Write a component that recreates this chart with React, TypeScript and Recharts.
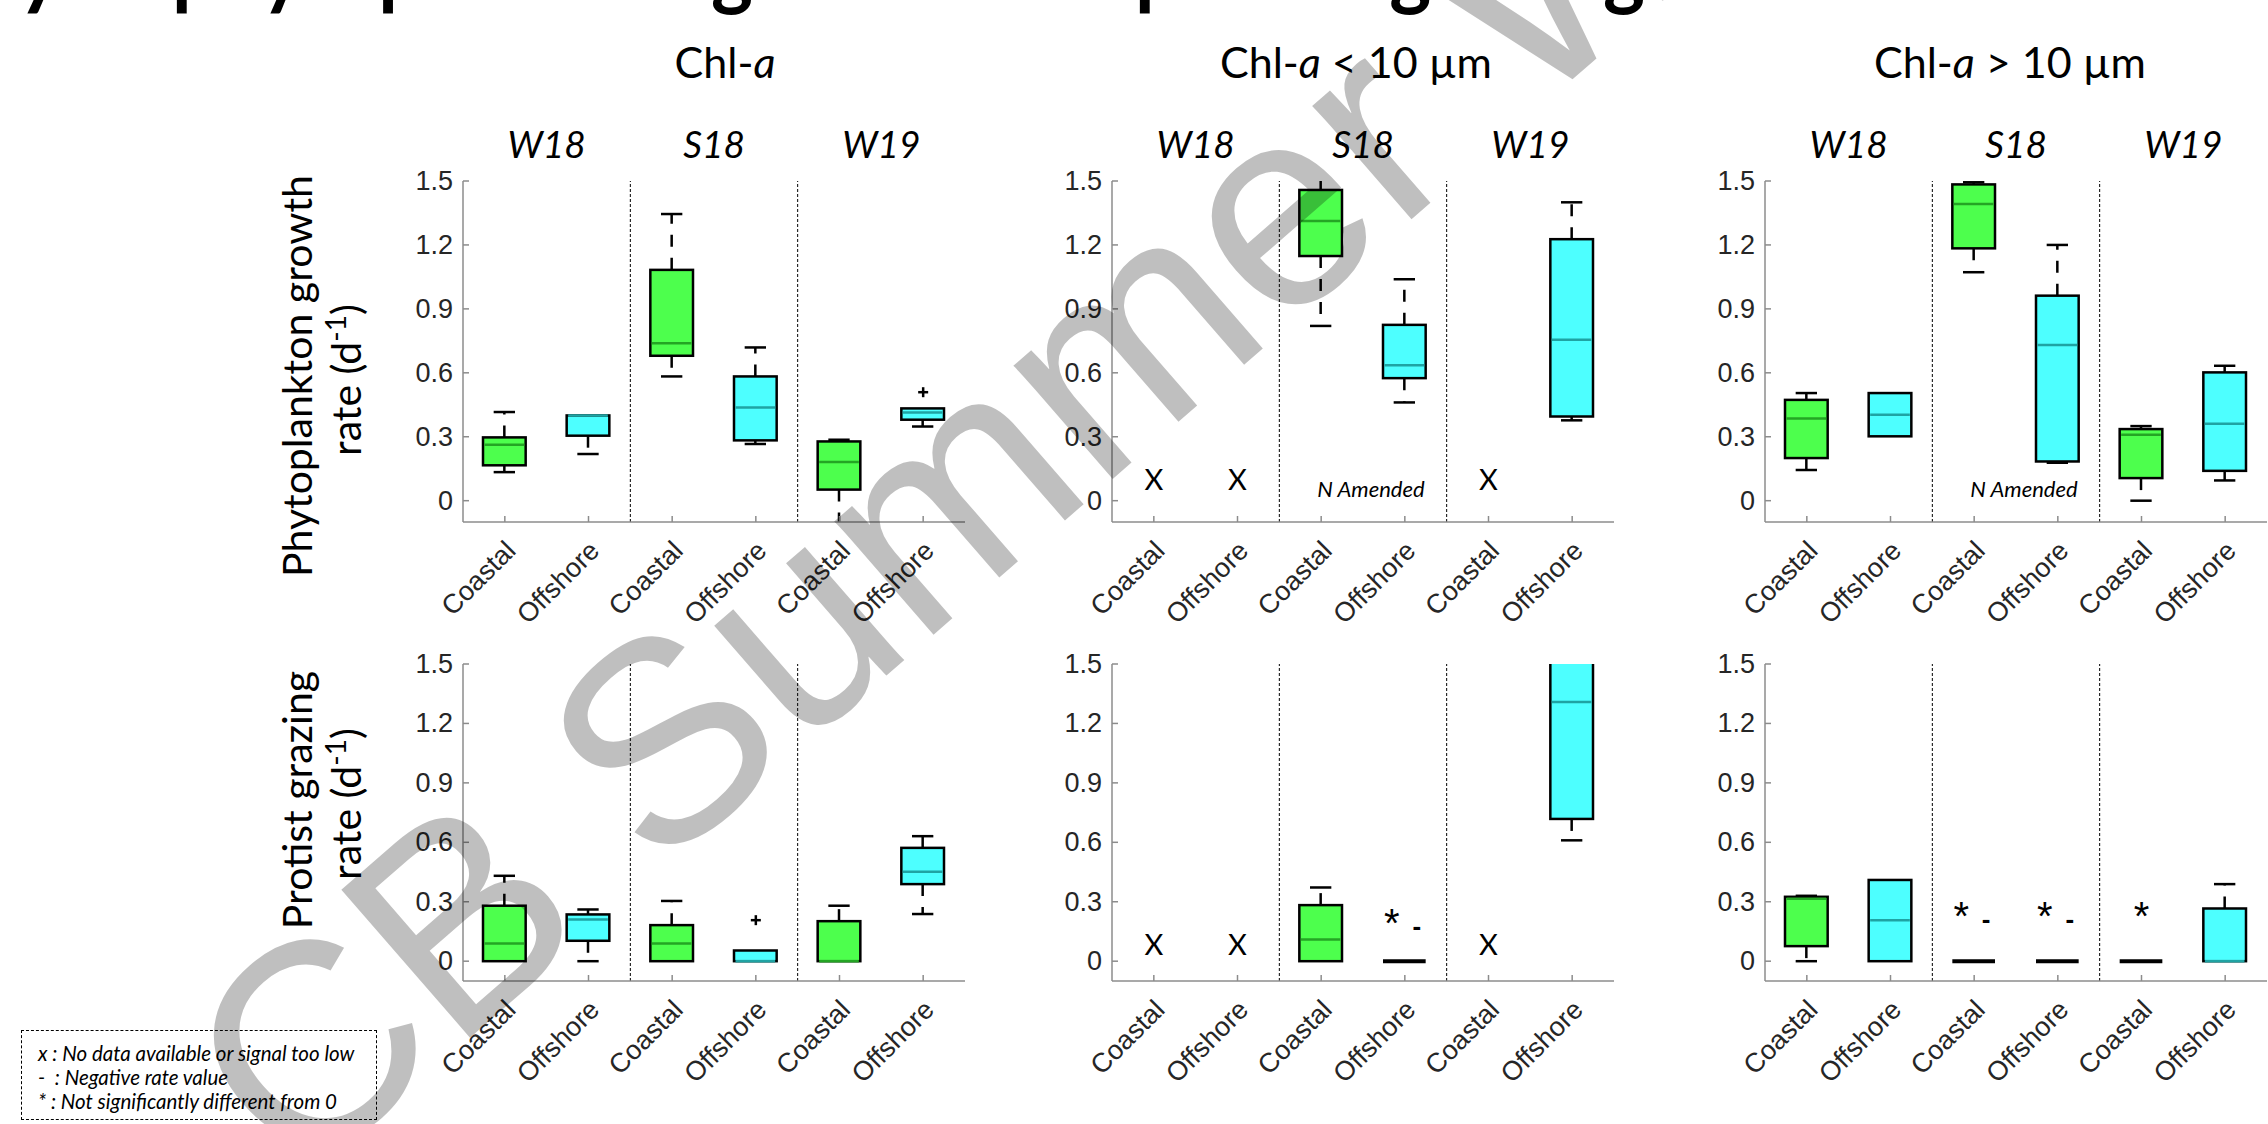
import React from 'react'
import { ComposedChart, Bar, Scatter, XAxis, YAxis, ReferenceLine } from 'recharts'

// site x season categories along each panel's x axis
const categories = ['Coastal', 'Offshore', 'Coastal', 'Offshore', 'Coastal', 'Offshore']
const seasons = ['W18', 'S18', 'W19']
const yTicks = [0, 0.3, 0.6, 0.9, 1.2, 1.5]
const yDomain: [number, number] = [-0.1, 1.5]

// box stats: [min, q1, median, q3, max], null = no data
const growthAll = [
  [0.134, 0.166, 0.262, 0.297, 0.416],
  [0.219, 0.305, 0.4, 0.4, 0.4],
  [0.583, 0.68, 0.739, 1.083, 1.345],
  [0.266, 0.283, 0.437, 0.583, 0.719],
  [-0.2, 0.052, 0.181, 0.278, 0.286],
  [0.348, 0.38, 0.414, 0.433, 0.433],
]
const growthAllOutliers = [null, null, null, null, null, 0.509]

const growthSmall = [
  null,
  null,
  [0.82, 1.148, 1.312, 1.458, 1.52],
  [0.461, 0.575, 0.636, 0.825, 1.039],
  null,
  [0.377, 0.395, 0.755, 1.227, 1.4],
]
const growthSmallMarks = ['x', 'x', '', '', 'x', '']
const growthSmallMarkY = [0.106, 0.106, null, null, 0.106, null]

const growthLarge = [
  [0.144, 0.2, 0.386, 0.473, 0.505],
  [0.302, 0.302, 0.403, 0.505, 0.505],
  [1.072, 1.184, 1.392, 1.484, 1.494],
  [0.178, 0.184, 0.731, 0.962, 1.2],
  [0, 0.106, 0.309, 0.336, 0.35],
  [0.095, 0.14, 0.361, 0.602, 0.633],
]

const grazingAll = [
  [0, 0, 0.089, 0.28, 0.431],
  [0, 0.103, 0.21, 0.236, 0.261],
  [0, 0, 0.089, 0.182, 0.304],
  [0, 0, 0, 0.054, 0.054],
  [0, 0, 0, 0.202, 0.28],
  [0.238, 0.389, 0.452, 0.572, 0.631],
]
const grazingAllOutliers = [null, null, null, 0.207, null, null]

const grazingSmall = [
  null,
  null,
  [0, 0, 0.11, 0.283, 0.372],
  [0, 0, 0, 0, 0],
  null,
  [0.61, 0.718, 1.308, 1.62, 1.75],
]
const grazingSmallMarks = ['x', 'x', '', '*-', 'x', '']
const grazingSmallMarkY = [0.089, 0.089, null, 0.2, 0.089, null]

const grazingLarge = [
  [0, 0.076, 0.315, 0.325, 0.33],
  [0, 0, 0.207, 0.41, 0.41],
  [0, 0, 0, 0, 0],
  [0, 0, 0, 0, 0],
  [0, 0, 0, 0, 0],
  [0, 0, 0, 0.266, 0.389],
]
const grazingLargeMarks = ['', '', '*-', '*-', '*', '']
const grazingLargeMarkY = [null, null, 0.233, 0.233, 0.233, null]

const GREEN = '#4dff4d'
const GREEN_MED = '#24a524'
const CYAN = '#4dffff'
const CYAN_MED = '#1fa3a3'
const AXIS = '#8c8c8c'
const TXT = '#262626'
const SANS = '"Liberation Sans", Arial, sans-serif'
const CAL = 'Lato, "Open Sans", sans-serif'

function buildRows(stats: (number[] | null)[], outliers?: (number | null)[], marks?: string[], markY?: (number | null)[]) {
  return categories.map((name, i) => ({
    idx: i,
    name,
    range: stats[i] ? [stats[i]![0], stats[i]![4]] : null,
    stats: stats[i],
    outlier: outliers ? outliers[i] : null,
    mark: marks ? marks[i] : '',
    markY: markY ? markY[i] : null,
  }))
}

function BoxShape(props: any) {
  const { x, y, width, height, payload } = props
  const row = payload
  if (!row || !row.stats) return null
  const [mn, q1, md, q3, mx] = row.stats
  const span = mx - mn
  const py = (v: number) => (span > 0 ? y + ((mx - v) / span) * height : y)
  const even = row.idx % 2 === 0
  const cx = x + width / 2
  const cap = width / 4
  const top = py(q3)
  const bot = py(q1)
  if (bot - top < 1) {
    return <line x1={x} x2={x + width} y1={top} y2={top} stroke="#000" strokeWidth={4} />
  }
  return (
    <g>
      {mx > q3 && (
        <>
          <line x1={cx} x2={cx} y1={top} y2={py(mx)} stroke="#000" strokeWidth={2.5} strokeDasharray="12 11" />
          <line x1={cx - cap} x2={cx + cap} y1={py(mx)} y2={py(mx)} stroke="#000" strokeWidth={2.5} />
        </>
      )}
      {mn < q1 && (
        <>
          <line x1={cx} x2={cx} y1={bot} y2={py(mn)} stroke="#000" strokeWidth={2.5} strokeDasharray="12 11" />
          <line x1={cx - cap} x2={cx + cap} y1={py(mn)} y2={py(mn)} stroke="#000" strokeWidth={2.5} />
        </>
      )}
      <rect x={x} y={top} width={width} height={bot - top} fill={even ? GREEN : CYAN} stroke="#000" strokeWidth={2.5} />
      <line x1={x + 1.5} x2={x + width - 1.5} y1={py(md)} y2={py(md)} stroke={even ? GREEN_MED : CYAN_MED} strokeWidth={2.5} />
    </g>
  )
}

function PlusShape(props: any) {
  const { cx, cy, payload } = props
  if (payload == null || payload.outlier == null) return null
  return (
    <g stroke="#000" strokeWidth={2.5}>
      <line x1={cx - 5} x2={cx + 5} y1={cy} y2={cy} />
      <line x1={cx} x2={cx} y1={cy - 5} y2={cy + 5} />
    </g>
  )
}

function MarkShape(props: any) {
  const { cx, cy, payload } = props
  if (payload == null || !payload.mark) return null
  if (payload.mark === 'x') {
    return (
      <text x={cx} y={cy} textAnchor="middle" dominantBaseline="central" fontFamily={CAL} fontSize={29} fill="#000">
        X
      </text>
    )
  }
  return (
    <g fontFamily={SANS} fill="#000">
      <text x={payload.mark === '*' ? cx : cx - 13} y={cy + 15} textAnchor="middle" fontSize={40}>
        *
      </text>
      {payload.mark === '*-' && (
        <text x={cx + 12} y={cy + 13} textAnchor="middle" fontSize={26} fontWeight={700}>
          -
        </text>
      )}
    </g>
  )
}

type PanelProps = {
  left: number
  top: number
  plotW: number
  plotH: number
  rows: ReturnType<typeof buildRows>
  showSeasons?: boolean
  amended?: boolean
}

function Panel({ left, top, plotW, plotH, rows, showSeasons, amended }: PanelProps) {
  const yW = 90
  const topM = 60
  const bottomH = 130
  const boxW = (plotW / 6) * 0.51
  const axisLine = { stroke: AXIS, strokeWidth: 1.5 }
  return (
    <div style={{ position: 'absolute', left: left - yW, top: top - topM }}>
      <ComposedChart
        width={yW + plotW + 4}
        height={topM + plotH + bottomH}
        data={rows}
        margin={{ top: topM, right: 4, left: 0, bottom: 0 }}
      >
        <XAxis
          xAxisId="cat"
          dataKey="idx"
          type="category"
          height={bottomH}
          interval={0}
          tickSize={0}
          tickMargin={0}
          tickLine={false}
          axisLine={axisLine}
          tick={(p: any) => (
            <g>
              <line x1={p.x} x2={p.x} y1={p.y} y2={p.y - 6} stroke={AXIS} strokeWidth={1.5} />
              <text
                x={p.x + 6}
                y={p.y + 24}
                transform={`rotate(-45 ${p.x + 6} ${p.y + 24})`}
                textAnchor="end"
                dominantBaseline="central"
                fontFamily={SANS}
                fontSize={27}
                fill={TXT}
              >
                {categories[p.payload.value]}
              </text>
            </g>
          )}
        />
        <XAxis
          xAxisId="top"
          dataKey="idx"
          type="category"
          orientation="top"
          height={0}
          interval={0}
          tickSize={0}
          tickMargin={0}
          tickLine={false}
          axisLine={axisLine}
          tick={(p: any) => <line x1={p.x} x2={p.x} y1={p.y} y2={p.y + 6} stroke={AXIS} strokeWidth={1.5} />}
        />
        <YAxis
          yAxisId="l"
          type="number"
          domain={yDomain}
          ticks={yTicks}
          allowDataOverflow
          width={yW}
          interval={0}
          tickSize={0}
          tickMargin={0}
          tickLine={false}
          axisLine={axisLine}
          tick={(p: any) => (
            <g>
              <line x1={p.x} x2={p.x + 6} y1={p.y} y2={p.y} stroke={AXIS} strokeWidth={1.5} />
              <text x={p.x - 10} y={p.y} textAnchor="end" dominantBaseline="central" fontFamily={SANS} fontSize={27} fill={TXT}>
                {p.payload.value === 0 ? '0' : Number(p.payload.value).toFixed(1)}
              </text>
            </g>
          )}
        />
        <YAxis
          yAxisId="r"
          orientation="right"
          type="number"
          domain={yDomain}
          ticks={yTicks}
          allowDataOverflow
          width={0}
          interval={0}
          tickSize={0}
          tickMargin={0}
          tickLine={false}
          axisLine={axisLine}
          tick={(p: any) => <line x1={p.x} x2={p.x - 6} y1={p.y} y2={p.y} stroke={AXIS} strokeWidth={1.5} />}
        />
        {[1, 3].map((c) => (
          <ReferenceLine
            key={c}
            xAxisId="cat"
            yAxisId="l"
            x={c}
            position="end"
            stroke="#000"
            strokeWidth={1}
            strokeDasharray="3 2"
          />
        ))}
        {showSeasons &&
          seasons.map((s, i) => (
            <ReferenceLine
              key={s}
              xAxisId="cat"
              yAxisId="l"
              x={i * 2}
              position="end"
              stroke="none"
              label={{ value: s, position: 'top', offset: 23, fill: '#000', fontSize: 37, fontStyle: 'italic', fontFamily: CAL }}
            />
          ))}
        {amended && (
          <ReferenceLine
            xAxisId="cat"
            yAxisId="l"
            x={2}
            position="end"
            stroke="none"
            label={{ value: 'N Amended', position: 'insideBottom', offset: 25, dx: 8, fill: '#000', fontSize: 22, fontStyle: 'italic', fontFamily: CAL }}
          />
        )}
        <Bar
          xAxisId="cat"
          yAxisId="l"
          dataKey="range"
          barSize={boxW}
          isAnimationActive={false}
          shape={(p: any) => <BoxShape {...p} />}
        />
        <Scatter xAxisId="cat" yAxisId="l" dataKey="outlier" isAnimationActive={false} shape={(p: any) => <PlusShape {...p} />} />
        <Scatter xAxisId="cat" yAxisId="l" dataKey="markY" isAnimationActive={false} shape={(p: any) => <MarkShape {...p} />} />
      </ComposedChart>
    </div>
  )
}

function RateLabel({ x, y, first }: { x: number; y: number; first: string }) {
  return (
    <g fontFamily={CAL} fontSize={41} fill="#000" textAnchor="middle">
      <text x={x} y={y} transform={`rotate(-90 ${x} ${y})`}>
        {first}
      </text>
      <text x={x + 49} y={y + 4} transform={`rotate(-90 ${x + 49} ${y + 4})`}>
        rate (d
        <tspan fontSize={28} dy={-15}>
          -1
        </tspan>
        <tspan dy={15}>)</tspan>
      </text>
    </g>
  )
}

export default function App() {
  const rowsTop = [
    buildRows(growthAll, growthAllOutliers),
    buildRows(growthSmall, undefined, growthSmallMarks, growthSmallMarkY),
    buildRows(growthLarge),
  ]
  const rowsBottom = [
    buildRows(grazingAll, grazingAllOutliers),
    buildRows(grazingSmall, undefined, grazingSmallMarks, grazingSmallMarkY),
    buildRows(grazingLarge, undefined, grazingLargeMarks, grazingLargeMarkY),
  ]
  const cols = [463, 1112, 1765]
  const plotW = 502
  return (
    <div style={{ position: 'absolute', left: 0, top: 0, width: 2268, height: 1124, overflow: 'hidden', background: '#fff' }}>
      <svg width={2268} height={1124} style={{ position: 'absolute', left: 0, top: 0 }}>
        <g fontFamily={CAL} fontWeight={700} fontSize={84} fill="#000">
          <text x={62} y={-1} textAnchor="end">
            Daily
          </text>
          <text x={172} y={-1} textLength={1473} lengthAdjust="spacingAndGlyphs">
            phytoplankton growth and protist grazing
          </text>
        </g>
        <g fontFamily={CAL} fontSize={43} fill="#000" textAnchor="middle">
          <text x={725} y={78}>
            Chl-<tspan fontStyle="italic">a</tspan>
          </text>
          <text x={1356} y={78}>
            Chl-<tspan fontStyle="italic">a</tspan> {'< 10 µm'}
          </text>
          <text x={2010} y={78}>
            Chl-<tspan fontStyle="italic">a</tspan> {'> 10 µm'}
          </text>
        </g>
        <RateLabel x={312} y={376} first="Phytoplankton growth" />
        <RateLabel x={312} y={800} first="Protist grazing" />
      </svg>
      {cols.map((x, i) => (
        <Panel key={'t' + i} left={x} top={181} plotW={plotW} plotH={341} rows={rowsTop[i]} showSeasons amended={i > 0} />
      ))}
      {cols.map((x, i) => (
        <Panel key={'b' + i} left={x} top={664} plotW={plotW} plotH={317} rows={rowsBottom[i]} />
      ))}
      <div
        style={{
          position: 'absolute',
          left: 21,
          top: 1030,
          width: 356,
          height: 90,
          border: '1.5px dashed #000',
          boxSizing: 'border-box',
          padding: '10px 0 0 16px',
          fontFamily: CAL,
          fontStyle: 'italic',
          fontSize: 20.5,
          lineHeight: '24px',
          color: '#000',
          background: '#fff',
          whiteSpace: 'nowrap',
        }}
      >
        <div>x : No data available or signal too low</div>
        <div>- &nbsp;: Negative rate value</div>
        <div>* : Not significantly different from 0</div>
      </div>
      <svg width={2268} height={1124} style={{ position: 'absolute', left: 0, top: 0, pointerEvents: 'none' }}>
        <text
          x={297}
          y={1188}
          transform="rotate(-41 297 1188)"
          fontFamily={SANS}
          fontSize={285}
          fill="#000"
          fillOpacity={0.25}
        >
          CB Summer Workshop
        </text>
      </svg>
    </div>
  )
}
